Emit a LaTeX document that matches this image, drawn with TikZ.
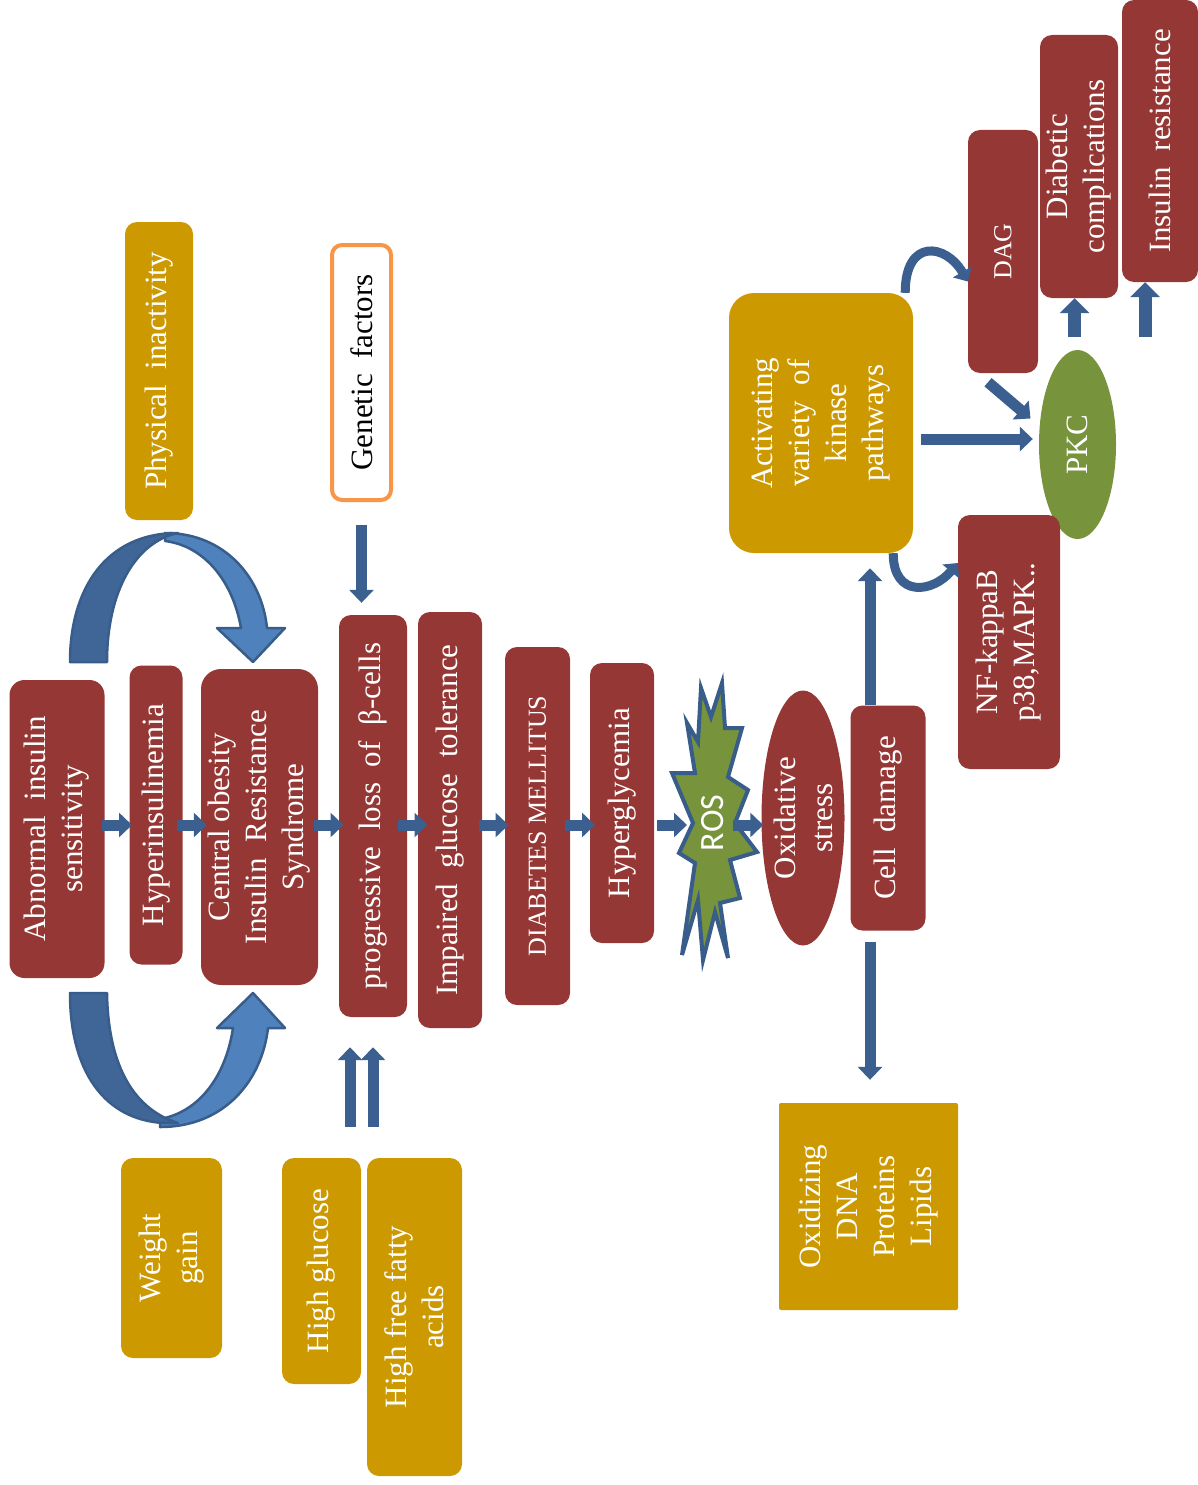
\documentclass[tikz,border=0pt]{standalone}
\usepackage{fontspec}
\setmainfont{Liberation Serif}
\newfontfamily\rosfamily{Carlito}
\usepackage{tikz}
\usetikzlibrary{shapes.geometric, arrows.meta, positioning, calc}
\definecolor{mybrick}{RGB}{149,55,53}
\definecolor{mygold}{RGB}{204,153,0}
\definecolor{myolive}{RGB}{119,147,60}
\definecolor{myblue}{RGB}{59,96,144}
\definecolor{myedge}{RGB}{56,93,138}
\definecolor{mysky}{RGB}{79,129,189}
\definecolor{mydeep}{RGB}{64,102,152}
\definecolor{myorange}{RGB}{247,150,70}
\newcommand{\boxfont}{\fontsize{31}{37}\selectfont}
\newcommand{\capfont}{\fontsize{26}{31}\selectfont}
\tikzset{
  redbox/.style={rectangle, fill=mybrick, text=white, rotate=90,
    align=center, inner sep=2pt, rounded corners=12pt, font=\boxfont},
  goldbox/.style={redbox, fill=mygold},
  genbox/.style={redbox, fill=white, draw=myorange, line width=4pt,
    text=black, rounded corners=10pt},
  ovalnode/.style={ellipse, fill=mybrick, rotate=90, inner sep=0pt,
    text=white, font=\boxfont},
  arrow/.style={-{Triangle[width=24pt,length=13pt]}, line width=11pt, color=myblue},
  fatarrow/.style={-{Triangle[width=29pt,length=15pt]}, line width=13pt, color=myblue},
  uturn/.style={draw=myedge, line width=2.5pt, line join=round}
}

\begin{document}
\begin{tikzpicture}[x=1pt, y=-1pt,
  ovaltext/.style={rotate=90, align=center, text=white, font=\boxfont},
  curvarrow/.style={-{Triangle[width=21pt,length=11pt]}, line width=9pt, color=myblue}
]
  \useasboundingbox (0,0) rectangle (1198,1485);
  \coordinate (axis) at (0,825);

  % ROS burst
  \draw[fill=myolive, draw=myedge, line width=4pt] (701,688) -- (711,717) -- (722,683)
    -- (725,728) -- (742,728) -- (728,777) -- (748,790) -- (735,823) -- (757,852)
    -- (730,860) -- (740,898) -- (720,903) -- (728,958) -- (715,912) -- (703,960)
    -- (698,900) -- (682,955) -- (695,863) -- (679,853) -- (693,823) -- (672,773)
    -- (695,773) -- (687,723) -- (698,742) -- cycle;

  % main chain
  \node[redbox, minimum width=298pt, minimum height=95pt, rounded corners=15pt] (abn) at (57,829) {Abnormal~ insulin\\sensitivity};
  \node[redbox, minimum width=299pt, minimum height=53pt] (hyp) at (156,815) {Hyperinsulinemia};
  \node[redbox, minimum width=316pt, minimum height=117pt, rounded corners=20pt] (cent) at (259.5,827) {Central obesity\\Insulin~ Resistance\\Syndrome};
  \node[redbox, minimum width=402pt, minimum height=68pt] (prog) at (373,816) {progressive~ loss~ of~ β-cells};
  \node[redbox, minimum width=416pt, minimum height=64pt] (imp) at (450,820) {Impaired~ glucose~ tolerance};
  \node[redbox, minimum width=358pt, minimum height=65pt, font=\capfont] (dia) at (537.5,826) {DIABETES MELLITUS};
  \node[redbox, minimum width=280pt, minimum height=64pt] (hypg) at (622,803) {Hyperglycemia};
  \node[rotate=90, text=white, inner sep=0pt, minimum width=100pt, minimum height=45pt,
    font=\rosfamily\fontsize{34}{40}\selectfont] (ros) at (712.5,823) {ROS};
  \node[ovalnode, minimum width=255pt, minimum height=83pt] (ox) at (803,818) {};
  \node[ovaltext] (oxtext) at (ox) {Oxidative\\stress};
  \node[redbox, minimum width=225pt, minimum height=75pt] (cell) at (888,818) {Cell~ damage};

  % causes
  \node[goldbox, minimum width=298pt, minimum height=68pt] (phys) at (159,371) {Physical~ inactivity};
  \node[genbox, minimum width=255pt, minimum height=59pt] (gen) at (361.5,372.5) {Genetic~ factors};
  \node[goldbox, minimum width=200pt, minimum height=101pt] (wt) at (171.5,1258) {Weight\\gain};
  \node[goldbox, minimum width=226pt, minimum height=79pt] (hglu) at (321.5,1271) {High glucose};
  \node[goldbox, minimum width=318pt, minimum height=95pt] (hffa) at (414.5,1317) {High free fatty\\acids};

  % damage side
  \node[goldbox, minimum width=207pt, minimum height=179pt, rounded corners=2pt] (oxd) at (868.5,1206.5) {Oxidizing\\DNA\\Proteins\\Lipids};
  \node[goldbox, minimum width=260pt, minimum height=184pt, rounded corners=25pt] (kin) at (821,423) {Activating\\variety~ of\\kinase\\pathways};
  \node[ovalnode, fill=myolive, minimum width=189pt, minimum height=77pt] (pkc) at (1077.5,444.5) {PKC};
  \node[redbox, minimum width=243pt, minimum height=70pt, font=\capfont] (dag) at (1003,251.5) {DAG};
  \node[redbox, minimum width=263pt, minimum height=78pt] (dcomp) at (1079,166.5) {Diabetic\\complications};
  \node[redbox, minimum width=282pt, minimum height=76pt] (ins) at (1160,141) {Insulin~ resistance};
  \node[redbox, minimum width=254pt, minimum height=102pt] (nfk) at (1009,642) {NF-kappaB\\p38,MAPK..};

  % loops round the first boxes
  \filldraw[uturn, fill=mysky] (165,533) .. controls (225,533) and (262,578) .. (267,628)
    -- (285,628) -- (253,662) -- (217,628) -- (241,628)
    .. controls (233,582) and (205,546) .. (165,541) -- cycle;
  \filldraw[uturn, fill=mydeep] (70,662) .. controls (70,590) and (105,533) .. (178,533)
    .. controls (135,542) and (107,592) .. (107,662) -- cycle;
  \filldraw[uturn, fill=mysky] (160,1127) .. controls (225,1127) and (262,1080) .. (268,1028)
    -- (285,1028) -- (253,993) -- (217,1028) -- (233,1028)
    .. controls (226,1075) and (200,1112) .. (160,1119) -- cycle;
  \filldraw[uturn, fill=mydeep] (70,993) -- (107,993) .. controls (108,1060) and (130,1108) .. (178,1123)
    .. controls (108,1127) and (70,1075) .. (70,993) -- cycle;

  % arrows
  \foreach \a/\b in {abn/hyp, hyp/cent, cent/prog, prog/imp, imp/dia, dia/hypg, hypg/ros, ros/ox}
    \draw[arrow] ($(\a.south |- axis)!0.5!(\b.north |- axis) + (-15,0)$) -- ++(30,0);

  \draw[arrow, shorten <=23pt, shorten >=12pt] (gen.west) -- (gen.west |- prog.east);
  \coordinate (glutail) at (350,1127);
  \coordinate (ffatail) at (373,1127);
  \draw[arrow, shorten >=30pt] (glutail) -- (glutail |- prog.west);
  \draw[arrow, shorten >=30pt] (ffatail) -- (ffatail |- prog.west);

  \draw[arrow, shorten >=15pt] ([xshift=-18pt]cell.east) -- ([xshift=-18pt]cell.east |- kin.west);
  \draw[arrow, shorten <=11pt, shorten >=23pt] ([xshift=-18pt]cell.west) -- ([xshift=-18pt]cell.west |- oxd.east);
  \draw[arrow, shorten <=8pt, shorten >=6pt] ([yshift=-16pt]kin.south) -- ([yshift=-16pt]kin.south -| pkc.north);
  \draw[arrow] ([xshift=-15pt,yshift=-9pt]dag.west) -- ([xshift=-47pt,yshift=26pt]pkc.center);
  \draw[fatarrow, shorten <=13pt] ([xshift=-3pt]pkc.east) -- ([xshift=-3pt]pkc.east |- dcomp.west);
  \draw[fatarrow, shorten <=13pt] ([xshift=-15pt]ins.west |- pkc.east) -- ([xshift=-15pt]ins.west);
  \draw[curvarrow] ([xshift=-8pt]kin.south east) .. controls +(0,-55) and +(-22,-38) .. ([yshift=-30pt]dag.north);
  \draw[curvarrow] ([xshift=-20pt]kin.south west) .. controls +(0,45) and +(-25,30) .. ([yshift=79pt]nfk.north);
\end{tikzpicture}
\end{document}
